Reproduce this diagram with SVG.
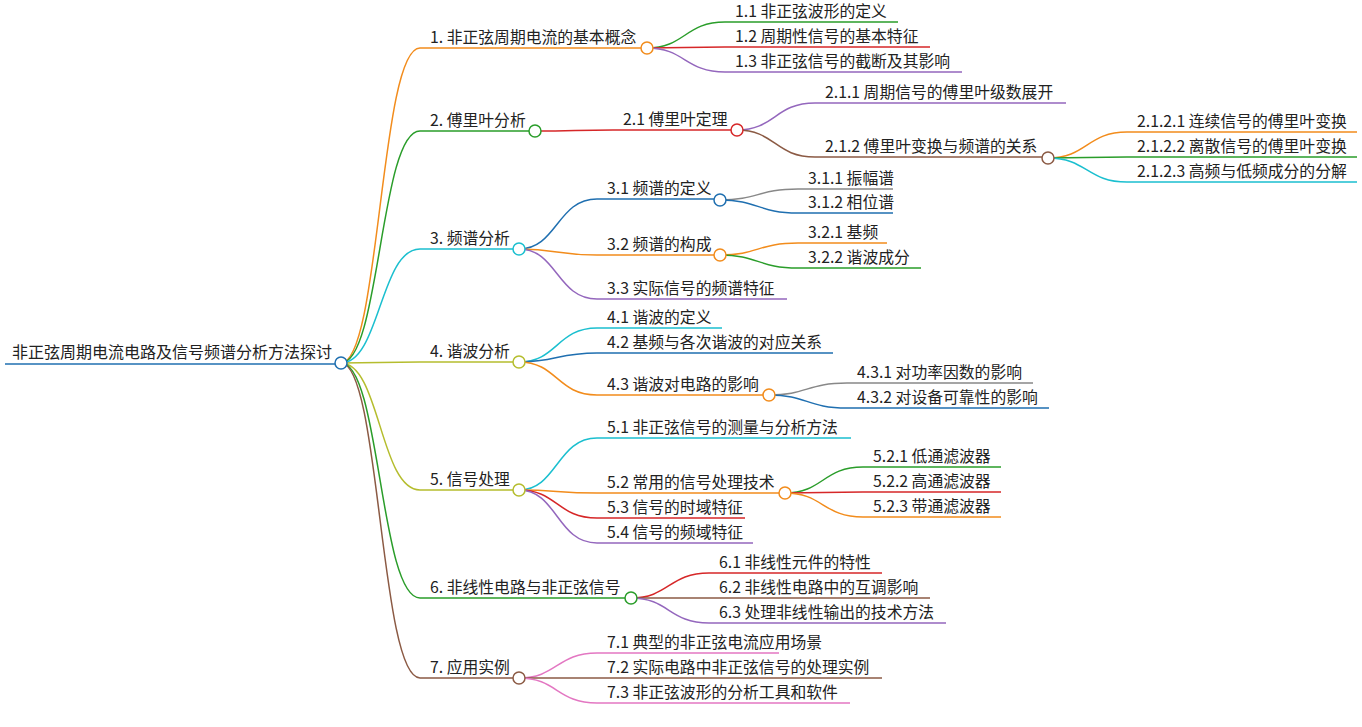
<svg xmlns="http://www.w3.org/2000/svg" width="1362" height="727" viewBox="0 0 1362 727">
<style>
text{font-family:"Noto Sans CJK SC","Noto Sans",sans-serif;font-size:15.8px;fill:#222}
.c{fill:none;stroke-width:1.5}
circle{fill:#fff;stroke-width:1.5}
</style>
<rect width="1362" height="727" fill="#fff"/>
<g id="connectors">
<path class="c" d="M5 364H341" stroke="#1f6fb0" stroke-width="4"/>
<path class="c" stroke="#f28c1c" d="M341 363C380 363 380 48 420 48H647"/>
<path class="c" stroke="#2a9d2a" d="M341 363C380 363 380 131 420 131H535"/>
<path class="c" stroke="#1bbfcf" d="M341 363C380 363 380 249 420 249H519"/>
<path class="c" stroke="#b5bd2e" d="M341 363C380 363 380 362 420 362H519"/>
<path class="c" stroke="#b5bd2e" d="M341 363C380 363 380 490 420 490H519"/>
<path class="c" stroke="#2a9d2a" d="M341 363C380 363 380 598 420 598H631"/>
<path class="c" stroke="#8b5a44" d="M341 363C380 363 380 678 420 678H519"/>
<path class="c" stroke="#2a9d2a" d="M647 48C685 48 685 22 725 22H898"/>
<path class="c" stroke="#d62728" d="M647 48C685 48 685 47 725 47H930"/>
<path class="c" stroke="#9467bd" d="M647 48C685 48 685 72 725 72H962"/>
<path class="c" stroke="#d62728" d="M535 131C575 131 575 130 613 130H737"/>
<path class="c" stroke="#9467bd" d="M737 130C775 130 775 103 815 103H1066"/>
<path class="c" stroke="#8b5a44" d="M737 130C775 130 775 157 815 157H1048"/>
<path class="c" stroke="#f28c1c" d="M1048 158C1087 158 1087 132 1127 132H1357"/>
<path class="c" stroke="#2a9d2a" d="M1048 158C1087 158 1087 157 1127 157H1357"/>
<path class="c" stroke="#1bbfcf" d="M1048 158C1087 158 1087 182 1127 182H1357"/>
<path class="c" stroke="#1f6fb0" d="M519 249C557 249 557 199 597 199H720"/>
<path class="c" stroke="#f28c1c" d="M519 249C557 249 557 255 597 255H720"/>
<path class="c" stroke="#9467bd" d="M519 249C557 249 557 299 597 299H787"/>
<path class="c" stroke="#888" d="M720 200C758 200 758 189 798 189H893"/>
<path class="c" stroke="#1f6fb0" d="M720 200C758 200 758 213 798 213H893"/>
<path class="c" stroke="#f28c1c" d="M720 255C758 255 758 243 798 243H887"/>
<path class="c" stroke="#2a9d2a" d="M720 255C758 255 758 268 798 268H921"/>
<path class="c" stroke="#1bbfcf" d="M519 362C557 362 557 328 597 328H722"/>
<path class="c" stroke="#1f6fb0" d="M519 362C557 362 557 353 597 353H833"/>
<path class="c" stroke="#f28c1c" d="M519 362C557 362 557 395 597 395H769"/>
<path class="c" stroke="#888" d="M769 395C807 395 807 383 847 383H1033"/>
<path class="c" stroke="#1f6fb0" d="M769 395C807 395 807 408 847 408H1049"/>
<path class="c" stroke="#1bbfcf" d="M519 490C557 490 557 438 597 438H851"/>
<path class="c" stroke="#f28c1c" d="M519 490C557 490 557 493 597 493H785"/>
<path class="c" stroke="#d62728" d="M519 490C557 490 557 518 597 518H745"/>
<path class="c" stroke="#9467bd" d="M519 490C557 490 557 543 597 543H753"/>
<path class="c" stroke="#2a9d2a" d="M785 493C823 493 823 467 863 467H1001"/>
<path class="c" stroke="#d62728" d="M785 493C823 493 823 492 863 492H1001"/>
<path class="c" stroke="#f28c1c" d="M785 493C823 493 823 517 863 517H1001"/>
<path class="c" stroke="#d62728" d="M631 598C669 598 669 573 709 573H882"/>
<path class="c" stroke="#8b5a44" d="M631 598C669 598 669 598 709 598H930"/>
<path class="c" stroke="#9467bd" d="M631 598C669 598 669 623 709 623H946"/>
<path class="c" stroke="#e377c2" d="M519 678C557 678 557 653 597 653H779"/>
<path class="c" stroke="#8b5a44" d="M519 678C557 678 557 678 597 678H882"/>
<path class="c" stroke="#e377c2" d="M519 678C557 678 557 703 597 703H850"/>
</g>
<g id="root"><text x="12" y="358" style="font-size:16px">非正弦周期电流电路及信号频谱分析方法探讨</text><circle cx="341" cy="363" r="6" stroke="#1f6fb0"/></g>
<g id="n1"><text x="430" y="43">1. 非正弦周期电流的基本概念</text><circle cx="647" cy="48" r="6" stroke="#f28c1c"/></g>
<g id="n11"><text x="735" y="17">1.1 非正弦波形的定义</text></g>
<g id="n12"><text x="735" y="42">1.2 周期性信号的基本特征</text></g>
<g id="n13"><text x="735" y="67">1.3 非正弦信号的截断及其影响</text></g>
<g id="n2"><text x="430" y="126">2. 傅里叶分析</text><circle cx="535" cy="131" r="6" stroke="#2a9d2a"/></g>
<g id="n21"><text x="623" y="125">2.1 傅里叶定理</text><circle cx="737" cy="130" r="6" stroke="#d62728"/></g>
<g id="n211"><text x="825" y="98">2.1.1 周期信号的傅里叶级数展开</text></g>
<g id="n212"><text x="825" y="152">2.1.2 傅里叶变换与频谱的关系</text><circle cx="1048" cy="158" r="6" stroke="#8b5a44"/></g>
<g id="n2121"><text x="1137" y="127">2.1.2.1 连续信号的傅里叶变换</text></g>
<g id="n2122"><text x="1137" y="152">2.1.2.2 离散信号的傅里叶变换</text></g>
<g id="n2123"><text x="1137" y="177">2.1.2.3 高频与低频成分的分解</text></g>
<g id="n3"><text x="430" y="244">3. 频谱分析</text><circle cx="519" cy="249" r="6" stroke="#1bbfcf"/></g>
<g id="n31"><text x="607" y="194">3.1 频谱的定义</text><circle cx="720" cy="200" r="6" stroke="#1f6fb0"/></g>
<g id="n311"><text x="808" y="184">3.1.1 振幅谱</text></g>
<g id="n312"><text x="808" y="208">3.1.2 相位谱</text></g>
<g id="n32"><text x="607" y="250">3.2 频谱的构成</text><circle cx="720" cy="255" r="6" stroke="#f28c1c"/></g>
<g id="n321"><text x="808" y="238">3.2.1 基频</text></g>
<g id="n322"><text x="808" y="263">3.2.2 谐波成分</text></g>
<g id="n33"><text x="607" y="294">3.3 实际信号的频谱特征</text></g>
<g id="n4"><text x="430" y="357">4. 谐波分析</text><circle cx="519" cy="362" r="6" stroke="#b5bd2e"/></g>
<g id="n41"><text x="607" y="323">4.1 谐波的定义</text></g>
<g id="n42"><text x="607" y="348">4.2 基频与各次谐波的对应关系</text></g>
<g id="n43"><text x="607" y="390">4.3 谐波对电路的影响</text><circle cx="769" cy="395" r="6" stroke="#f28c1c"/></g>
<g id="n431"><text x="857" y="378">4.3.1 对功率因数的影响</text></g>
<g id="n432"><text x="857" y="403">4.3.2 对设备可靠性的影响</text></g>
<g id="n5"><text x="430" y="485">5. 信号处理</text><circle cx="519" cy="490" r="6" stroke="#b5bd2e"/></g>
<g id="n51"><text x="607" y="433">5.1 非正弦信号的测量与分析方法</text></g>
<g id="n52"><text x="607" y="488">5.2 常用的信号处理技术</text><circle cx="785" cy="493" r="6" stroke="#f28c1c"/></g>
<g id="n521"><text x="873" y="462">5.2.1 低通滤波器</text></g>
<g id="n522"><text x="873" y="487">5.2.2 高通滤波器</text></g>
<g id="n523"><text x="873" y="512">5.2.3 带通滤波器</text></g>
<g id="n53"><text x="607" y="513">5.3 信号的时域特征</text></g>
<g id="n54"><text x="607" y="538">5.4 信号的频域特征</text></g>
<g id="n6"><text x="430" y="593">6. 非线性电路与非正弦信号</text><circle cx="631" cy="598" r="6" stroke="#2a9d2a"/></g>
<g id="n61"><text x="719" y="568">6.1 非线性元件的特性</text></g>
<g id="n62"><text x="719" y="593">6.2 非线性电路中的互调影响</text></g>
<g id="n63"><text x="719" y="618">6.3 处理非线性输出的技术方法</text></g>
<g id="n7"><text x="430" y="673">7. 应用实例</text><circle cx="519" cy="678" r="6" stroke="#8b5a44"/></g>
<g id="n71"><text x="607" y="648">7.1 典型的非正弦电流应用场景</text></g>
<g id="n72"><text x="607" y="673">7.2 实际电路中非正弦信号的处理实例</text></g>
<g id="n73"><text x="607" y="698">7.3 非正弦波形的分析工具和软件</text></g>
</svg>
